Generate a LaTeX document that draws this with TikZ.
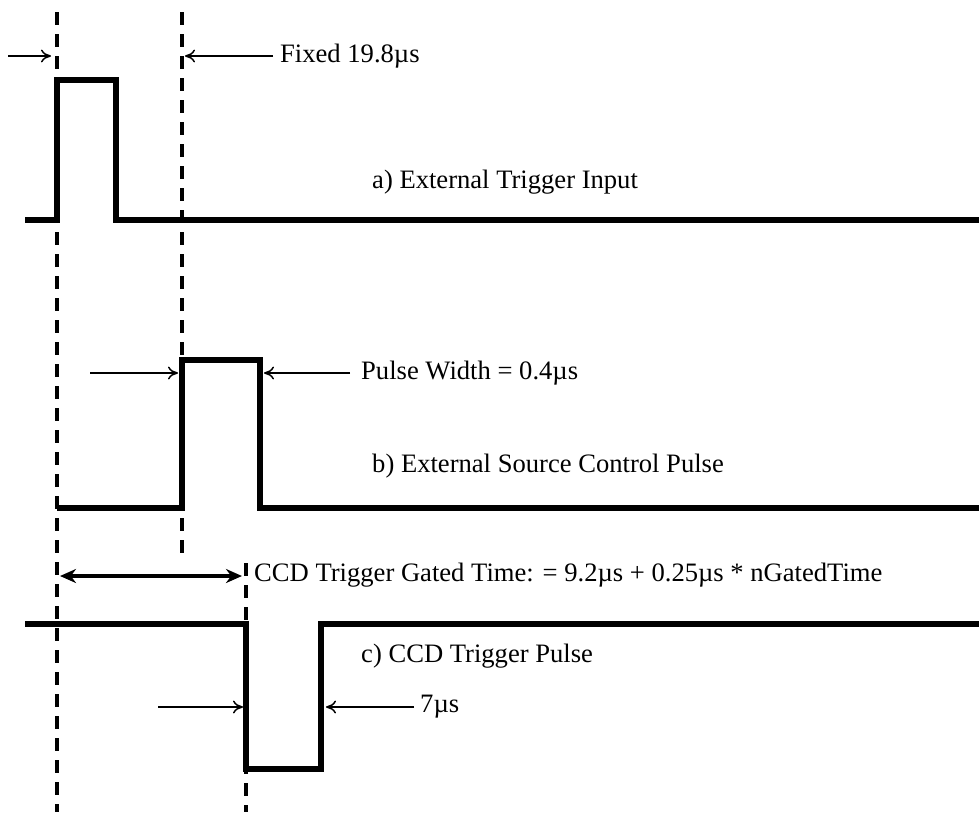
\documentclass[tikz,border=0pt]{standalone}
\usepackage{fontspec}
\setmainfont{Liberation Serif}
\usetikzlibrary{arrows.meta}
\begin{document}
\begin{tikzpicture}[x=1pt,y=-1pt,
  signal/.style={line width=5.5pt,line join=miter,line cap=butt},
  guide/.style={line width=3.8pt,dash pattern=on 13pt off 9pt},
  dimarrow/.style={line width=1.5pt,-{To[length=10pt,width=13pt]}},
  gatearrow/.style={line width=3.5pt,{Stealth[length=16pt,width=14pt]}-{Stealth[length=16pt,width=14pt]}},
  lbl/.style={font=\fontsize{26.6}{30}\selectfont,anchor=west,inner sep=0pt}]
\useasboundingbox (0,0) rectangle (979,812);
% guide lines
\coordinate (g1t) at (57,12);   \coordinate (g1b) at (57,812);
\coordinate (g2t) at (182,12);  \coordinate (g2b) at (182,554);
\coordinate (g3t) at (246,563); \coordinate (g3b) at (246,812);
\draw[guide] (g1t) -- (g1b);
\draw[guide] (g2t) -- (g2b);
\draw[guide] (g3t) -- (g3b);
% signal a
\draw[signal] (25,220) -- (57,220) -- (57,80) -- (116,80) -- (116,220) -- (979,220);
% signal b
\draw[signal] (57,508) -- (182,508) -- (182,360) -- (260,360) -- (260,508) -- (979,508);
% signal c
\draw[signal] (25,624) -- (246,624) -- (246,769) -- (321,769) -- (321,624) -- (979,624);
% labels
\node[lbl] (fixed) at (280,56) {Fixed 19.8µs};
\node[lbl] (la) at (372,182) {a) External Trigger Input};
\node[lbl] (pw) at (361,373) {Pulse Width = 0.4µs};
\node[lbl] (lb) at (372,466) {b) External Source Control Pulse};
\node[lbl] (gate) at (254,575) {CCD Trigger Gated Time: = 9.2µs + 0.25µs * nGatedTime};
\node[lbl] (lc) at (361,656) {c) CCD Trigger Pulse};
\node[lbl] (seven) at (420,707) {7µs};
% dimension arrows
\coordinate (a1s) at (8,56);    \coordinate (a1e) at (51,56);
\coordinate (a2s) at (273,56);  \coordinate (a2e) at (185,56);
\coordinate (b1s) at (90,373);  \coordinate (b1e) at (178,373);
\coordinate (b2s) at (350,373); \coordinate (b2e) at (264,373);
\coordinate (c1s) at (158,707); \coordinate (c1e) at (243,707);
\coordinate (c2s) at (414,707); \coordinate (c2e) at (326,707);
\coordinate (gs) at (60,576);   \coordinate (ge) at (242,576);
\draw[dimarrow] (a1s) -- (a1e);
\draw[dimarrow] (a2s) -- (a2e);
\draw[dimarrow] (b1s) -- (b1e);
\draw[dimarrow] (b2s) -- (b2e);
\draw[dimarrow] (c1s) -- (c1e);
\draw[dimarrow] (c2s) -- (c2e);
\draw[gatearrow] (gs) -- (ge);
\end{tikzpicture}
\end{document}
